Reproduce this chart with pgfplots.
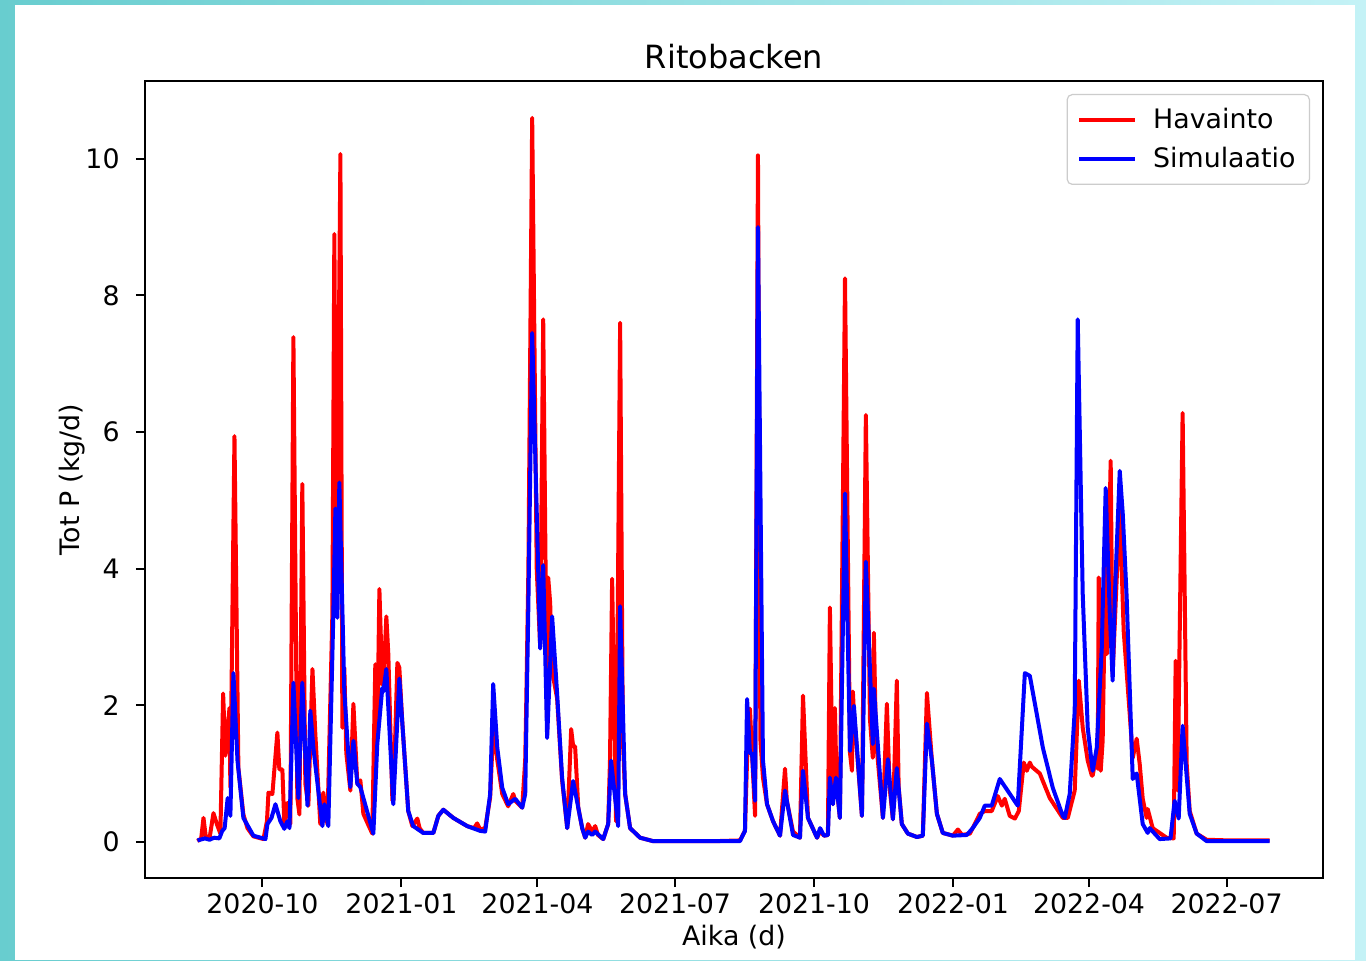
\documentclass[border=0pt]{standalone}
\usepackage{fontspec}
\setmainfont{DejaVu Sans}
\usepackage{pgfplots}
\pgfplotsset{compat=1.18}
\definecolor{bgL}{RGB}{104,205,207}
\definecolor{bgR}{RGB}{196,242,246}
\definecolor{legedge}{RGB}{204,204,204}
\begin{document}
\begin{tikzpicture}[x=1pt,y=1pt]
\shade[left color=bgL, right color=bgR] (0,0) rectangle (683,480);
\fill[white] (7.5,0) rectangle (677.5,477.5);
\begin{axis}[
  at={(72.5pt,41pt)}, anchor=south west,
  scale only axis, width=589pt, height=398.5pt,
  xmin=-77.7, xmax=701.8, ymin=-0.53, ymax=11.14,
  xtick={0,92,182,273,365,457,547,638},
  xticklabels={2020-10,2021-01,2021-04,2021-07,2021-10,2022-01,2022-04,2022-07},
  ytick={0,2,4,6,8,10},
  /pgf/number format/assume math mode=true,
  tick pos=left, tick align=outside, major tick length=4.5pt,
  every tick/.style={black, line width=1pt},
  axis line style={line width=1pt},
  tick label style={font=\fontsize{13.4}{16}\selectfont, inner sep=0pt},
  xticklabel style={anchor=north, yshift=-3pt},
  yticklabel style={anchor=east, xshift=-8pt},
  title={Ritobacken},
  title style={font=\fontsize{16}{19}\selectfont, at={(axis description cs:0.5,1.016)}, anchor=center},
  xlabel={Aika (d)},
  xlabel style={font=\fontsize{13.4}{16}\selectfont, at={(axis description cs:0.5,-0.074)}, anchor=center},
  ylabel={Tot P (kg/d)},
  ylabel style={font=\fontsize{13.4}{16}\selectfont, at={(axis description cs:-0.062,0.5)}, anchor=center},
  legend style={at={(1,1)}, anchor=north east, xshift=-6.5pt, yshift=-6.5pt,
    draw=legedge, line width=0.6pt, rounded corners=2.5pt, fill=white,
    inner xsep=5pt, inner ysep=4.75pt, row sep=4pt, column sep=6pt,
    font=\fontsize{13.4}{16}\selectfont, cells={anchor=west}},
  legend image code/.code={\draw[#1, line width=2pt] (0pt,0pt) -- (28pt,0pt);},
]
\addplot[red, line width=2pt, line join=round] coordinates {
(-43.0,0.01)(-40.5,0.05)(-39.0,0.35)(-37.5,0.08)(-35,0.05)(-32.4,0.42)(-30,0.25)(-27.8,0.12)
(-26.0,2.17)(-24.5,1.26)(-21.8,1.96)(-21.2,0.8)(-18.5,5.94)(-15.9,1.08)(-12.6,0.4)(-9.9,0.2)
(-6,0.08)(0.7,0.04)(3.0,0.3)(4.0,0.72)(6.6,0.7)(9.9,1.6)(11.2,1.06)(13.2,1.06)(14.5,0.26)
(16.5,0.57)(18.5,0.26)(20.5,7.39)(23.1,0.64)(24.5,0.4)(26.4,5.24)(28.4,0.85)(30.4,0.53)
(33.1,2.53)(35.0,1.58)(38.3,0.26)(40.3,0.72)(43.0,0.26)(46.3,3.34)(47.6,8.9)(49.0,3.3)
(51.6,10.07)(52.9,1.67)(54.2,2.55)(55.5,1.3)(58.2,0.75)(60.2,2.02)(62.8,0.85)(64.8,0.9)
(66.8,0.41)(70,0.25)(72.7,0.12)(74.7,2.6)(76.0,1.5)(77.4,3.7)(79.3,2.3)(80.0,2.3)(82.0,3.3)
(83.3,2.75)(86.0,0.6)(86.6,0.6)(89.3,2.62)(90.6,2.55)(92.6,1.73)(96.5,0.45)(99.2,0.23)
(102.5,0.34)(104,0.2)(106.4,0.13)(113.1,0.13)(116.4,0.38)(119.7,0.47)(126.3,0.35)(135.5,0.23)
(140,0.2)(142.1,0.27)(144.1,0.18)(147.4,0.2)(150.7,0.65)(152.7,1.67)(155.4,1.2)(158.7,0.7)
(162.6,0.52)(166.0,0.7)(167.3,0.6)(171.9,0.5)(173.9,1.2)(174.5,1.92)(176,4.0)(178.5,10.6)
(181.5,4.0)(183.8,2.85)(185.8,7.65)(188.4,1.6)(189.1,3.87)(190.4,3.5)(191.7,2.5)(195.0,2.1)
(198.3,0.9)(201.7,0.2)(204.3,1.65)(205.6,1.4)(206.9,1.4)(209,0.5)(211.6,0.2)(213.6,0.06)
(215.5,0.26)(218.2,0.15)(220.2,0.23)(222,0.1)(225.5,0.04)(228.8,0.26)(230,1.2)(231.4,3.85)
(234.0,0.3)(236.7,7.6)(238.5,1.5)(240.0,0.7)(243.3,0.2)(249.9,0.06)(258.5,0.01)(300,0.01)
(316.0,0.02)(319.3,0.16)(320.7,1.2)(322.6,1.95)(324.0,1.29)(326.0,0.38)(327.9,10.05)(329.5,1.5)
(331.2,0.94)(333.9,0.55)(337.9,0.3)(342.5,0.09)(345.8,1.07)(347,0.6)(351.1,0.15)(355.7,0.06)
(357.7,2.14)(361.0,0.35)(367.0,0.06)(369.0,0.15)(371.6,0.09)(374.2,0.1)(375.5,3.43)(377.5,0.55)
(378.8,1.96)(380,0.8)(382.1,0.35)(385.5,8.25)(388.8,1.3)(390.1,1.04)(390.7,2.2)(391.4,1.9)
(396.7,0.38)(399.3,6.25)(402,1.8)(403.9,1.23)(404.6,3.06)(406,1.5)(410.6,0.35)(413.2,2.02)
(415,0.8)(417.2,0.33)(419.8,2.36)(421,0.8)(423.1,0.26)(427.1,0.12)(433.1,0.07)(437.0,0.09)
(439.7,2.18)(443.0,1.19)(446.3,0.41)(450.2,0.13)(456.9,0.09)(460.2,0.18)(463,0.1)(468.1,0.12)
(471.4,0.26)(474.7,0.41)(478,0.45)(482.6,0.45)(486.6,0.67)(489.3,0.53)(491.2,0.63)(494.5,0.38)
(497.9,0.34)(500.5,0.45)(503.8,1.16)(505.8,1.04)(507.8,1.16)(509.1,1.1)(514.4,1.0)(521.0,0.64)
(529.6,0.35)(532.9,0.35)(537.5,0.75)(540.2,2.36)(542.8,1.67)(546.1,1.19)(548.8,0.97)(549.4,0.97)
(551.4,1.23)(552.7,1.07)(553.4,3.87)(554.7,1.04)(556.0,1.48)(558.0,4.26)(558.7,2.75)(561.3,5.58)
(562.6,2.46)(567.3,4.89)(569.9,3.09)(573.9,1.87)(575.9,1.23)(578.5,1.51)(580.5,1.14)(582.5,0.63)
(585.1,0.35)(585.8,0.48)(589.1,0.2)(598.3,0.06)(603.0,0.05)(604.3,2.65)(605.6,0.75)(608.9,6.28)
(611.6,1.14)(613.6,0.45)(618.2,0.12)(624.8,0.03)(640,0.02)(666.4,0.02)
};
\addlegendentry{Havainto}
\addplot[blue, line width=2pt, line join=round] coordinates {
(-43.0,0.02)(-38,0.05)(-35,0.03)(-32,0.06)(-28.5,0.05)(-26.6,0.16)(-25,0.2)(-23,0.64)(-21.2,0.38)
(-19.2,2.47)(-16.5,1.19)(-12.6,0.35)(-6.0,0.09)(2.0,0.04)(3.3,0.26)(6,0.35)(8.6,0.55)(11.9,0.3)
(14.5,0.19)(16.5,0.3)(17.9,0.2)(20.5,2.33)(23.8,0.64)(26.4,2.33)(29.8,0.53)(31.7,1.92)(33.7,1.38)
(39.7,0.23)(41.0,0.55)(43.6,0.23)(46.9,3.31)(48.3,4.88)(49.6,3.28)(50.9,5.26)(54.2,2.2)(58.2,0.8)
(60.2,1.48)(62.8,0.85)(64.8,0.8)(73.4,0.12)(76.0,1.43)(79.3,2.25)(80.0,2.2)(82.0,2.53)(86.6,0.55)
(90.6,2.39)(92.6,1.73)(96.5,0.45)(99.8,0.23)(106.4,0.13)(113.1,0.13)(116.4,0.38)(119.7,0.47)
(126.3,0.35)(135.5,0.23)(144.1,0.16)(147.4,0.15)(150.7,0.7)(152.7,2.31)(155.4,1.38)(158.7,0.79)
(162.6,0.55)(167.3,0.63)(171.9,0.5)(173.9,0.7)(176,3.5)(178.5,7.45)(183.8,2.83)(185.8,4.05)
(188.4,1.52)(191.7,3.3)(195.0,2.17)(198.3,0.94)(201.7,0.2)(205.6,0.89)(211.6,0.2)(213.6,0.06)
(215.5,0.15)(218.2,0.1)(220.2,0.15)(225.5,0.04)(228.8,0.26)(230.7,1.19)(235.4,0.23)(236.7,3.45)
(240.0,0.7)(243.3,0.2)(249.9,0.06)(258.5,0.01)(316.0,0.01)(319.3,0.16)(320.7,2.09)(322.6,1.3)
(324.0,1.29)(326.0,0.6)(327.9,9.0)(331.2,1.2)(333.9,0.55)(337.9,0.3)(342.5,0.09)(345.8,0.75)
(351.1,0.1)(355.7,0.06)(357.7,1.04)(361.0,0.35)(367.0,0.06)(369.0,0.2)(371.6,0.09)(374.2,0.1)
(375.5,0.94)(377.5,0.55)(379.5,0.94)(382.1,0.35)(385.5,5.1)(388.8,1.33)(391.4,1.99)(396.7,0.38)
(399.3,4.1)(403.9,1.43)(404.6,2.24)(410.6,0.35)(413.9,1.21)(417.2,0.33)(419.8,1.08)(423.1,0.26)
(427.1,0.12)(433.1,0.07)(437.0,0.09)(439.7,1.73)(443.0,1.19)(446.3,0.41)(450.2,0.13)(456.9,0.09)
(466.1,0.1)(470,0.2)(474.7,0.35)(478.0,0.53)(482.6,0.53)(487.9,0.92)(499.8,0.53)(504.5,2.47)
(507.8,2.43)(512.4,1.87)(516.4,1.38)(523.0,0.79)(529.6,0.38)(530.9,0.35)(534.2,0.7)(537.5,1.92)
(539.5,7.65)(542.8,3.63)(546.1,1.67)(548.8,1.14)(549.4,1.04)(552.1,1.38)(555.4,2.84)(558.0,5.18)
(560.7,3.34)(562.6,2.36)(564.0,3.57)(567.3,5.43)(569.3,4.8)(571.9,3.57)(575.2,1.38)(575.9,0.92)
(578.5,1.0)(582.5,0.26)(585.8,0.13)(587.1,0.2)(593.7,0.04)(600.9,0.05)(603.6,0.6)(606.3,0.34)
(608.9,1.7)(613.6,0.41)(618.2,0.12)(624.8,0.01)(666.4,0.01)
};
\addlegendentry{Simulaatio}
\end{axis}
\pgfresetboundingbox
\useasboundingbox (0,0) rectangle (683,480);
\end{tikzpicture}
\end{document}
